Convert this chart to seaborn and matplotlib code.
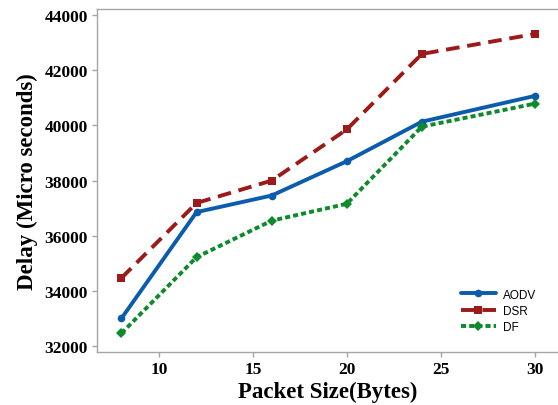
import pandas as pd
import matplotlib
matplotlib.use('Agg')
import matplotlib.pyplot as plt
import seaborn as sns

# Data
packet_size = [8, 12, 16, 20, 24, 30]
aodv = [33020, 36860, 37460, 38700, 40130, 41060]
dsr = [34480, 37190, 38000, 39850, 42580, 43300]
df_vals = [32480, 35230, 36550, 37160, 39950, 40780]
protocols = ['AODV', 'DSR', 'DF']
x_ticks = [10, 15, 20, 25, 30]
y_ticks = [32000, 34000, 36000, 38000, 40000, 42000, 44000]

data = pd.DataFrame({
    'Packet Size': packet_size * 3,
    'Delay': aodv + dsr + df_vals,
    'Protocol': [p for p in protocols for _ in packet_size],
})

sns.set_style('white')
plt.rcParams['font.family'] = ['Liberation Serif', 'DejaVu Serif']
plt.rcParams['text.color'] = 'black'
plt.rcParams['axes.labelcolor'] = 'black'
plt.rcParams['xtick.color'] = 'black'
plt.rcParams['ytick.color'] = 'black'

fig = plt.figure(figsize=(5.58, 4.06), dpi=100)
ax = fig.add_axes([0.174, 0.1305, 0.826, 0.8445])

palette = {'AODV': '#0b5cad', 'DSR': '#9c1a1a', 'DF': '#0c8a2c'}
dashes = {'AODV': '', 'DSR': (3.5, 2), 'DF': (1.3, 0.8)}
markers = {'AODV': 'o', 'DSR': 's', 'DF': 'D'}

sns.lineplot(data=data, x='Packet Size', y='Delay', hue='Protocol', style='Protocol',
             palette=palette, dashes=dashes, markers=markers, linewidth=2.8,
             markersize=5.5, markeredgewidth=0, ax=ax)

ax.set_xlim(6.7, 31.25)
ax.set_ylim(31800, 44200)
ax.set_xticks(x_ticks)
ax.set_yticks(y_ticks)
ax.set_xticklabels([str(t) for t in x_ticks], fontsize=12.5, fontweight='bold')
ax.set_yticklabels([str(t) for t in y_ticks], fontsize=12.5, fontweight='bold')
ax.set_xlabel('Packet Size(Bytes)', fontsize=16.5, fontweight='bold', labelpad=3)
ax.set_ylabel('Delay (Micro seconds)', fontsize=16.5, fontweight='bold', labelpad=5)

for s in ax.spines.values():
    s.set_color('#a6a6a6')
    s.set_linewidth(1.0)
ax.spines['right'].set_visible(False)
ax.tick_params(axis='both', direction='out', length=3.5, color='#a6a6a6', width=1,
               labelcolor='black', bottom=True, left=True, pad=3)

leg = ax.legend(loc='lower right', frameon=False, handlelength=2.9,
                prop={'family': 'Liberation Sans', 'size': 8.5},
                bbox_to_anchor=(0.975, 0.025), labelspacing=0.35, handletextpad=0.6)

fig.savefig('out.png', dpi=100)
